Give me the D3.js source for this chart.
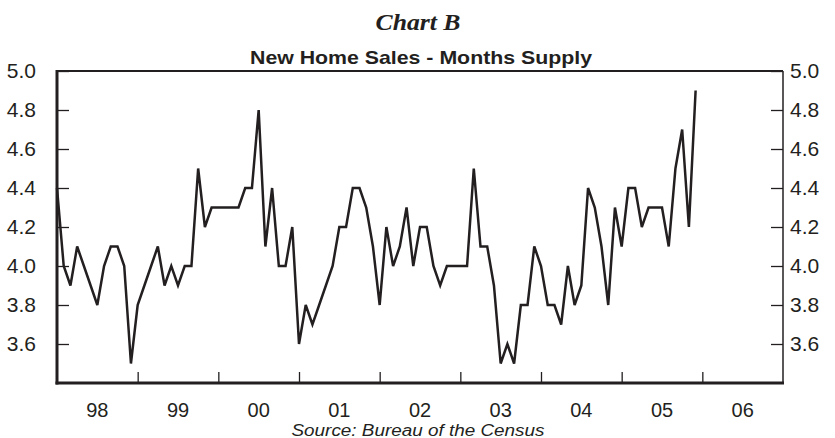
<!DOCTYPE html>
<html>
<head>
<meta charset="utf-8">
<script src="https://cdn.jsdelivr.net/npm/d3@7"></script>
<style>
  html, body { margin: 0; padding: 0; background: #fff; }
  svg { display: block; }
</style>
</head>
<body>
<svg id="chart" width="835" height="438"></svg>
<script>
// ---- Data (monthly, Jan 1998 – Dec 2005) ----
const years = ["98", "99", "00", "01", "02", "03", "04", "05", "06"];
const yTicks = [3.6, 3.8, 4.0, 4.2, 4.4, 4.6, 4.8, 5.0];
const supply1998 = [4.4, 4.0, 3.9, 4.1, 4.0, 3.9, 3.8, 4.0, 4.1, 4.1, 4.0, 3.5];
const supply1999 = [3.8, 3.9, 4.0, 4.1, 3.9, 4.0, 3.9, 4.0, 4.0, 4.5, 4.2, 4.3];
const supply2000 = [4.3, 4.3, 4.3, 4.3, 4.4, 4.4, 4.8, 4.1, 4.4, 4.0, 4.0, 4.2];
const supply2001 = [3.6, 3.8, 3.7, 3.8, 3.9, 4.0, 4.2, 4.2, 4.4, 4.4, 4.3, 4.1];
const supply2002 = [3.8, 4.2, 4.0, 4.1, 4.3, 4.0, 4.2, 4.2, 4.0, 3.9, 4.0, 4.0];
const supply2003 = [4.0, 4.0, 4.5, 4.1, 4.1, 3.9, 3.5, 3.6, 3.5, 3.8, 3.8, 4.1];
const supply2004 = [4.0, 3.8, 3.8, 3.7, 4.0, 3.8, 3.9, 4.4, 4.3, 4.1, 3.8, 4.3];
const supply2005 = [4.1, 4.4, 4.4, 4.2, 4.3, 4.3, 4.3, 4.1, 4.5, 4.7, 4.2, 4.9];

const series = [].concat(supply1998, supply1999, supply2000, supply2001,
                         supply2002, supply2003, supply2004, supply2005);

const svg = d3.select("#chart");
const L = 57, R = 783, T = 71, B = 383;
const ink = "#231f20";
const sans = "'Liberation Sans', Arial, sans-serif";

const x = d3.scaleLinear().domain([0, years.length * 12]).range([L, R]);
const y = d3.scaleLinear().domain([3.4, 5.0]).range([B, T]);

// Titles
svg.append("text")
  .attr("x", 418).attr("y", 30)
  .attr("text-anchor", "middle")
  .attr("textLength", 85).attr("lengthAdjust", "spacingAndGlyphs")
  .style("font-family", "'Liberation Serif', 'Times New Roman', serif")
  .style("font-weight", "bold").style("font-style", "italic")
  .style("font-size", "23px").attr("fill", ink)
  .text("Chart B");

svg.append("text")
  .attr("x", 421).attr("y", 64)
  .attr("text-anchor", "middle")
  .attr("textLength", 342).attr("lengthAdjust", "spacingAndGlyphs")
  .style("font-family", sans)
  .style("font-weight", "bold")
  .style("font-size", "19px").attr("fill", ink)
  .text("New Home Sales - Months Supply");

// Axes (ticks inside)
const yLeft = d3.axisLeft(y).tickValues(yTicks).tickSize(-12).tickPadding(21)
  .tickFormat(d3.format(".1f"));
const yRight = d3.axisRight(y).tickValues(yTicks).tickSize(-12).tickPadding(7)
  .tickFormat(d3.format(".1f"));
const xTickVals = d3.range(1, years.length).map(i => i * 12);
const xAxis = d3.axisBottom(x).tickValues(xTickVals).tickSize(-11).tickFormat("");

function styleAxis(g) {
  g.select(".domain").remove();
  g.selectAll(".tick line").attr("stroke", ink).attr("stroke-width", 1.3);
  g.selectAll(".tick text")
    .attr("fill", ink)
    .style("font-family", sans)
    .style("font-size", "21px");
}

svg.append("g").attr("transform", `translate(${L},0)`).call(yLeft).call(styleAxis);
svg.append("g").attr("transform", `translate(${R},0)`).call(yRight).call(styleAxis);
svg.append("g").attr("transform", `translate(0,${B})`).call(xAxis).call(styleAxis);

// Year labels, centered in each year
svg.append("g").selectAll("text").data(years).join("text")
  .attr("x", (d, i) => x(i * 12 + 6))
  .attr("y", 417)
  .attr("text-anchor", "middle")
  .attr("fill", ink)
  .style("font-family", sans)
  .style("font-size", "20px")
  .text(d => d);

// Frame
svg.append("line").attr("x1", L).attr("x2", R).attr("y1", T).attr("y2", T)
  .attr("stroke", ink).attr("stroke-width", 2);
svg.append("line").attr("x1", R).attr("x2", R).attr("y1", T).attr("y2", B)
  .attr("stroke", ink).attr("stroke-width", 1.5);
svg.append("line").attr("x1", L).attr("x2", L).attr("y1", T - 1).attr("y2", B + 1.5)
  .attr("stroke", ink).attr("stroke-width", 3);
svg.append("line").attr("x1", L - 1.5).attr("x2", R + 1).attr("y1", B).attr("y2", B)
  .attr("stroke", ink).attr("stroke-width", 3);

// Line
const line = d3.line().x((d, i) => x(i)).y(d => y(d));
svg.append("path").datum(series)
  .attr("d", line)
  .attr("fill", "none")
  .attr("stroke", ink)
  .attr("stroke-width", 2.5)
  .attr("stroke-linejoin", "miter");

// Source
svg.append("text")
  .attr("x", 418).attr("y", 436)
  .attr("text-anchor", "middle")
  .attr("textLength", 253).attr("lengthAdjust", "spacingAndGlyphs")
  .attr("fill", ink)
  .style("font-family", sans)
  .style("font-style", "italic")
  .style("font-size", "16px")
  .text("Source: Bureau of the Census");
</script>
</body>
</html>
